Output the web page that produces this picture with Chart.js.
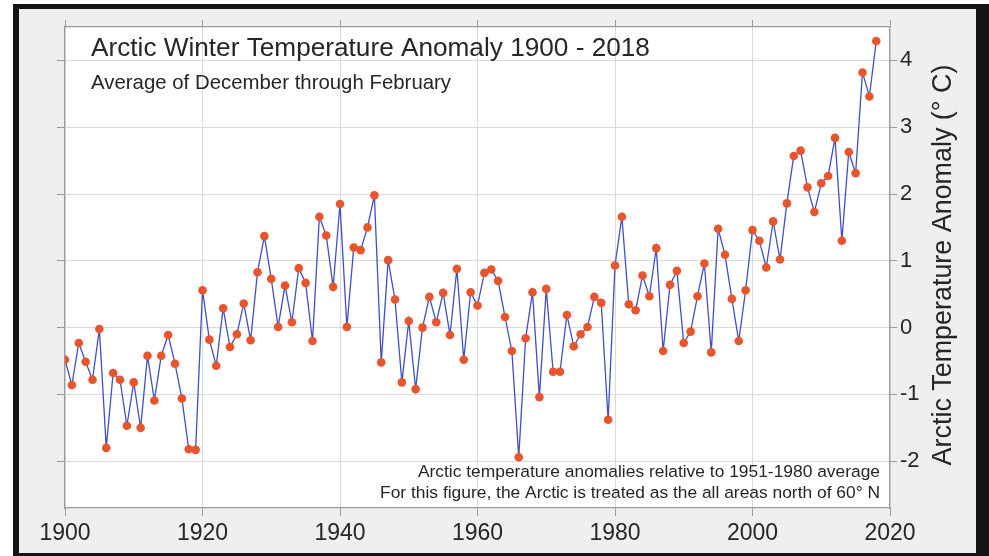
<!DOCTYPE html>
<html>
<head>
<meta charset="utf-8">
<title>Arctic Winter Temperature Anomaly 1900 - 2018</title>
<script src="https://cdn.jsdelivr.net/npm/chart.js@4.4.1/dist/chart.umd.min.js"></script>
<style>
  html, body { margin: 0; padding: 0; background: #ffffff; overflow: hidden; }
  canvas { display: block; }
</style>
</head>
<body>
<canvas id="chart" width="989" height="556"></canvas>
<script>
// Winter (Dec-Feb) years
const years = [
  1900, 1901, 1902, 1903, 1904, 1905, 1906, 1907, 1908, 1909,
  1910, 1911, 1912, 1913, 1914, 1915, 1916, 1917, 1918, 1919,
  1920, 1921, 1922, 1923, 1924, 1925, 1926, 1927, 1928, 1929,
  1930, 1931, 1932, 1933, 1934, 1935, 1936, 1937, 1938, 1939,
  1940, 1941, 1942, 1943, 1944, 1945, 1946, 1947, 1948, 1949,
  1950, 1951, 1952, 1953, 1954, 1955, 1956, 1957, 1958, 1959,
  1960, 1961, 1962, 1963, 1964, 1965, 1966, 1967, 1968, 1969,
  1970, 1971, 1972, 1973, 1974, 1975, 1976, 1977, 1978, 1979,
  1980, 1981, 1982, 1983, 1984, 1985, 1986, 1987, 1988, 1989,
  1990, 1991, 1992, 1993, 1994, 1995, 1996, 1997, 1998, 1999,
  2000, 2001, 2002, 2003, 2004, 2005, 2006, 2007, 2008, 2009,
  2010, 2011, 2012, 2013, 2014, 2015, 2016, 2017, 2018
];

// Anomaly relative to 1951-1980 average (deg C)
const anomalies = [
  -0.48, -0.86, -0.23, -0.51, -0.78, -0.02, -1.80, -0.68, -0.78, -1.47,
  -0.82, -1.50, -0.42, -1.09, -0.42, -0.11, -0.54, -1.06, -1.82, -1.83,
   0.56, -0.18, -0.57,  0.29, -0.29, -0.10,  0.36, -0.19,  0.83,  1.37,
   0.73,  0.01,  0.63,  0.08,  0.89,  0.67, -0.20,  1.66,  1.38,  0.61,
   1.85,  0.01,  1.20,  1.16,  1.50,  1.98, -0.52,  1.01,  0.42, -0.82,
   0.10, -0.92,  0.00,  0.46,  0.08,  0.52, -0.11,  0.88, -0.48,  0.53,
   0.33,  0.82,  0.87,  0.70,  0.16, -0.35, -1.94, -0.16,  0.53, -1.04,
   0.58, -0.66, -0.66,  0.19, -0.28, -0.10,  0.01,  0.46,  0.37, -1.38,
   0.93,  1.66,  0.35,  0.26,  0.78,  0.47,  1.19, -0.35,  0.64,  0.85,
  -0.23, -0.06,  0.47,  0.96, -0.37,  1.48,  1.09,  0.43, -0.20,  0.56,
   1.46,  1.30,  0.90,  1.59,  1.02,  1.86,  2.57,  2.65,  2.10,  1.73,
   2.16,  2.27,  2.84,  1.30,  2.63,  2.31,  3.82,  3.46,  4.29
];

// Axis ranges and tick spacing
const xRange = [1900, 2020];
const xTickStep = 20;
const yRange = [-2.7, 4.5];
const yTickStep = 1;

const titleText = 'Arctic Winter Temperature Anomaly 1900 - 2018';
const subtitleText = 'Average of December through February';
const noteLines = [
  'Arctic temperature anomalies relative to 1951-1980 average',
  'For this figure, the Arctic is treated as the all areas north of 60\u00b0 N'
];
const yAxisTitle = 'Arctic Temperature Anomaly (\u00b0 C)';

const FONT = '"Liberation Sans", Arial, Helvetica, sans-serif';
const TEXT = '#262626';
const GRID = '#dadada';
const EDGE = '#9a9a9a';

const points = years.map((yr, i) => ({ x: yr, y: anomalies[i] }));

// Keep only whole-number ticks on the value axes
const integerTicks = scale => {
  scale.ticks = scale.ticks.filter(t => Math.abs(t.value - Math.round(t.value)) < 1e-9);
};

// Page background, dark frame and white plotting area
const framePlugin = {
  id: 'frame',
  beforeDraw(chart) {
    const { ctx, width, height, chartArea: a } = chart;
    ctx.save();
    ctx.fillStyle = '#ffffff';
    ctx.fillRect(0, 0, width, height);
    ctx.fillStyle = '#151515';
    ctx.fillRect(13, 4, width - 13, height - 4);
    ctx.fillStyle = '#efefef';
    ctx.fillRect(19, 9, 976 - 19, 553 - 9);
    ctx.fillStyle = '#ffffff';
    ctx.fillRect(a.left, a.top, a.right - a.left, a.bottom - a.top);
    ctx.restore();
  }
};

// Title, subtitle, footnote and rotated value-axis title
const textPlugin = {
  id: 'texts',
  afterDraw(chart) {
    const { ctx, chartArea: a } = chart;
    ctx.save();
    ctx.fillStyle = TEXT;
    ctx.textBaseline = 'alphabetic';
    ctx.textAlign = 'left';
    ctx.font = '26.2px ' + FONT;
    ctx.fillText(titleText, a.left + 26, 56);
    ctx.font = '20.4px ' + FONT;
    ctx.fillText(subtitleText, a.left + 26, 89);

    ctx.textAlign = 'right';
    ctx.font = '17.4px ' + FONT;
    ctx.fillText(noteLines[0], a.right - 10, 477);
    ctx.fillText(noteLines[1], a.right - 10, 498);

    ctx.translate(944, 265);
    ctx.rotate(-Math.PI / 2);
    ctx.textAlign = 'center';
    ctx.textBaseline = 'middle';
    ctx.font = '26.9px ' + FONT;
    ctx.fillText(yAxisTitle, 0, 0);
    ctx.restore();
  }
};

new Chart(document.getElementById('chart'), {
  type: 'line',
  data: {
    datasets: [{
      data: points,
      borderColor: '#3f4fc6',
      borderWidth: 1.3,
      pointBackgroundColor: '#e8542c',
      pointBorderColor: '#e8542c',
      pointBorderWidth: 0,
      pointRadius: 4.3,
      tension: 0,
      fill: false
    }]
  },
  options: {
    responsive: false,
    animation: false,
    devicePixelRatio: 1,
    layout: { padding: { top: 20, left: 57, right: 0, bottom: 0 } },
    plugins: {
      legend: { display: false },
      tooltip: { enabled: false }
    },
    scales: {
      x: {
        type: 'linear',
        position: 'bottom',
        min: xRange[0],
        max: xRange[1],
        ticks: {
          stepSize: xTickStep,
          color: TEXT,
          font: { family: FONT, size: 23 },
          padding: 4,
          maxRotation: 0,
          callback: v => String(v)
        },
        grid: { color: GRID, tickColor: EDGE, tickLength: 8, lineWidth: 1 },
        border: { color: EDGE, width: 1.2 },
        afterFit: s => { s.height = 48; }
      },
      xTop: {
        type: 'linear',
        position: 'top',
        min: xRange[0],
        max: xRange[1],
        ticks: { stepSize: xTickStep, display: false },
        grid: { drawOnChartArea: false, tickColor: EDGE, tickLength: 7 },
        border: { color: EDGE, width: 1.2 },
        afterFit: s => { s.height = 7; }
      },
      y: {
        type: 'linear',
        position: 'right',
        min: yRange[0],
        max: yRange[1],
        afterBuildTicks: integerTicks,
        ticks: {
          stepSize: yTickStep,
          color: TEXT,
          font: { family: FONT, size: 22 },
          padding: 3,
          callback: v => String(v)
        },
        grid: { color: GRID, tickColor: EDGE, tickLength: 7, lineWidth: 1 },
        border: { color: EDGE, width: 1.2 },
        afterFit: s => { s.width = 99; }
      },
      yLeft: {
        type: 'linear',
        position: 'left',
        min: yRange[0],
        max: yRange[1],
        afterBuildTicks: integerTicks,
        ticks: { stepSize: yTickStep, display: false },
        grid: { drawOnChartArea: false, tickColor: EDGE, tickLength: 8 },
        border: { color: EDGE, width: 1.2 },
        afterFit: s => { s.width = 8; }
      }
    }
  },
  plugins: [framePlugin, textPlugin]
});
</script>
</body>
</html>
